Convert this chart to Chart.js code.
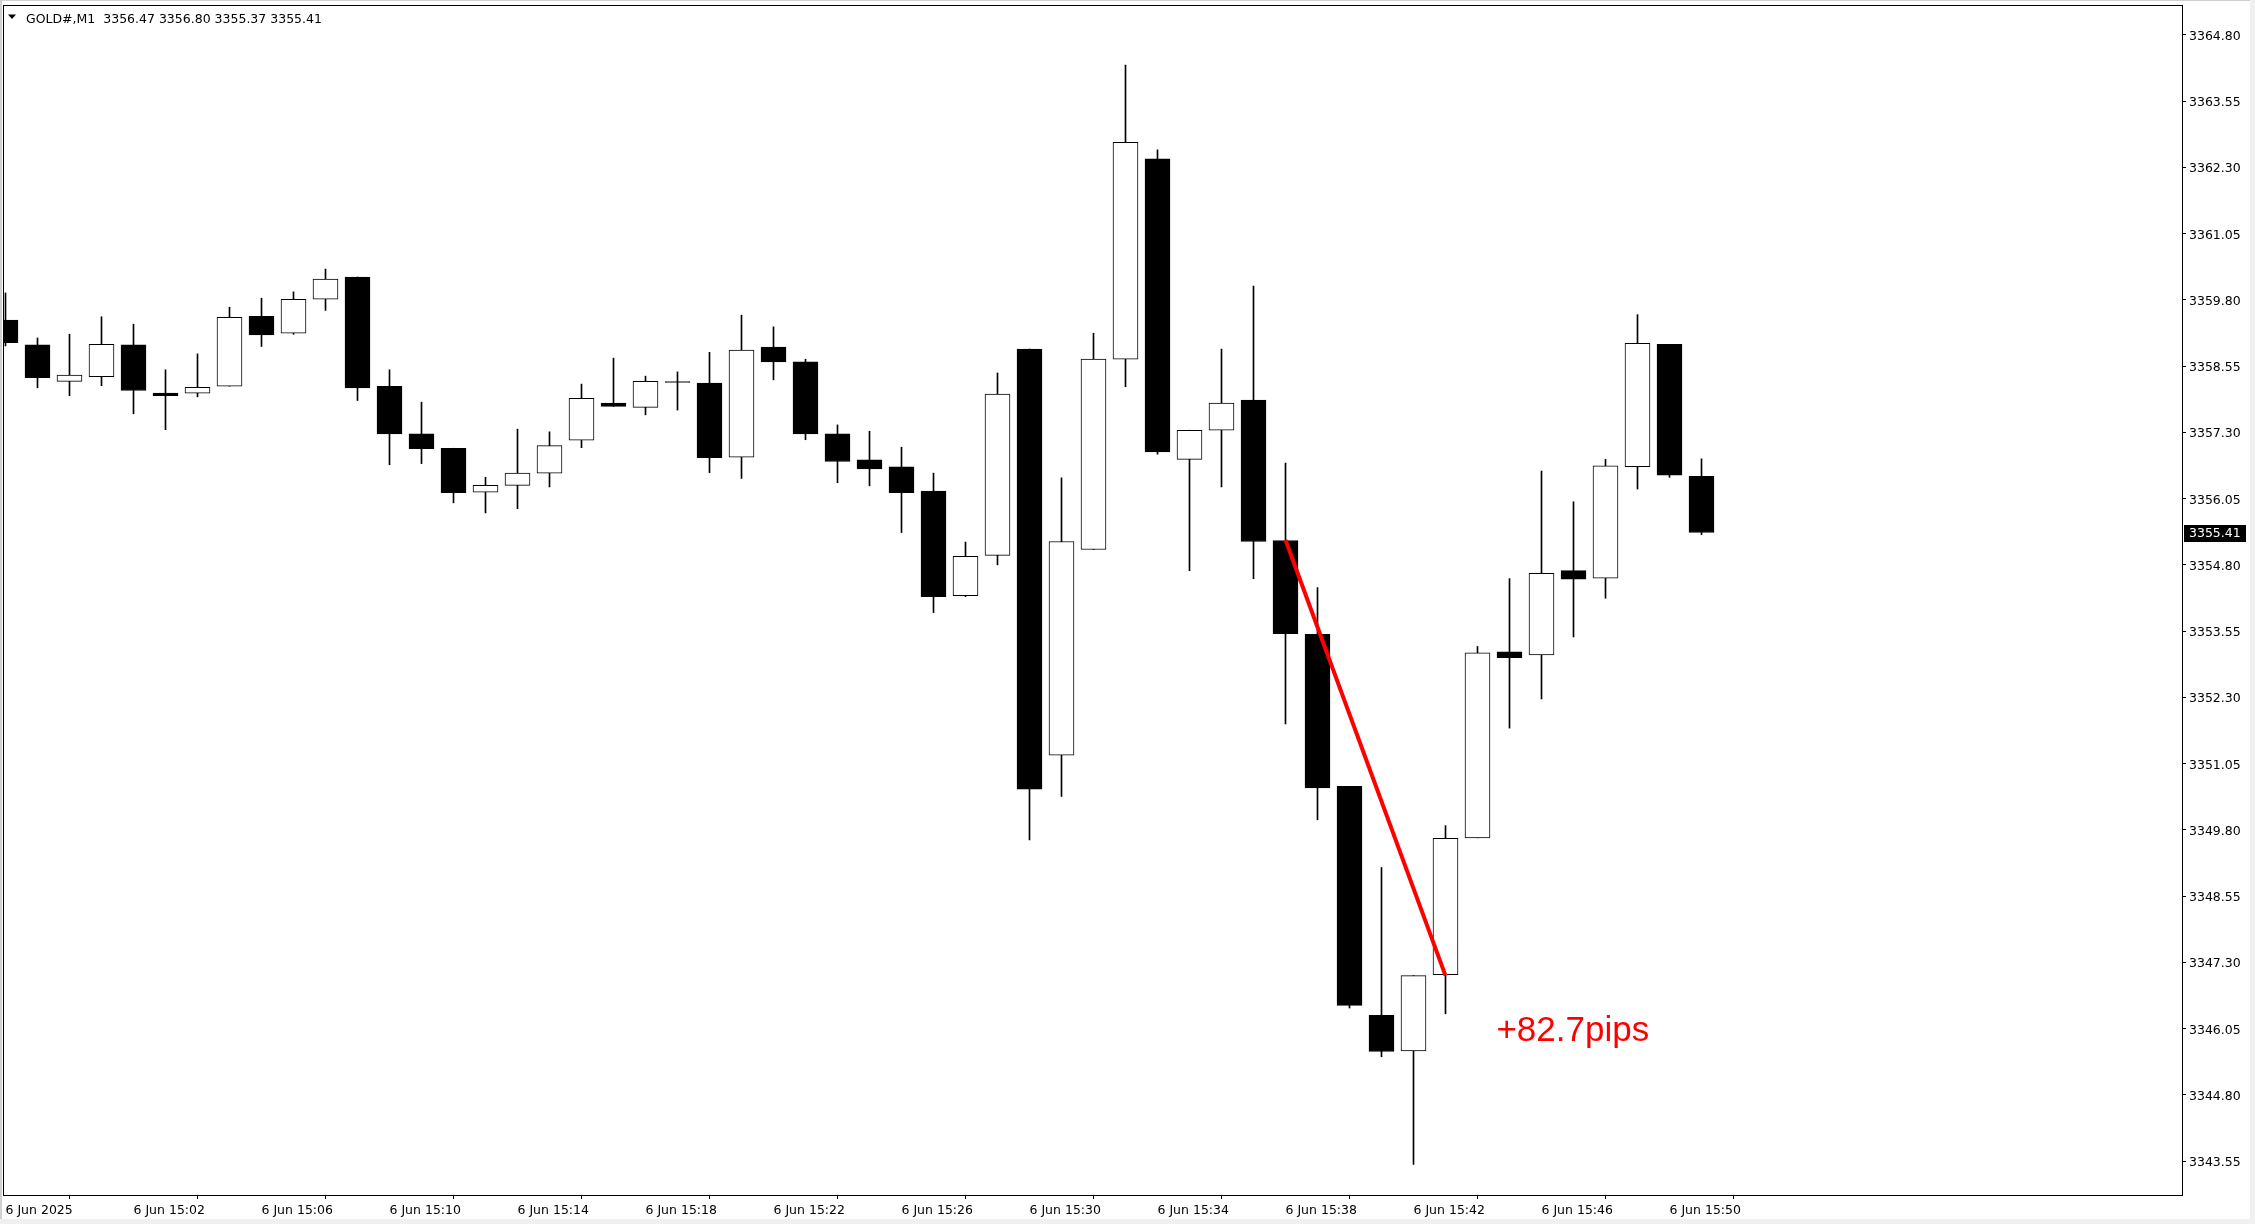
<!DOCTYPE html>
<html>
<head>
<meta charset="utf-8">
<title>GOLD#,M1</title>
<script src="https://cdn.jsdelivr.net/npm/chart.js"></script>
<style>
	html, body { margin: 0; padding: 0; background: #f0f0f0; overflow: hidden; }
	#wrap { position: absolute; left: 0; top: 0; width: 2250px; height: 1219px; background: #fff; }
	canvas { display: block; }
</style>
</head>
<body>
<div id="wrap"><canvas id="chart" width="2250" height="1219"></canvas></div>
<script>
// one-minute bars from 6 Jun 14:58 to 15:51
const opens = [
	3359.42, 3358.95, 3358.26, 3358.35, 3358.95, 3358.04, 3358.04, 3358.17, 3359.49, 3359.17,
	3359.81, 3360.23, 3358.17, 3357.27, 3357.00, 3356.17, 3356.30, 3356.53, 3357.15, 3357.85,
	3357.77, 3358.245, 3358.23, 3356.83, 3358.91, 3358.63, 3357.27, 3356.78, 3356.65, 3356.19,
	3354.22, 3354.98, 3358.87, 3351.21, 3355.09, 3358.68, 3362.46, 3356.79, 3357.34, 3357.91,
	3355.26, 3353.49, 3350.62, 3346.30, 3345.63, 3347.07, 3349.65, 3353.16, 3353.10, 3354.69,
	3354.55, 3356.65, 3358.96, 3356.47,
]
const highs = [
	3359.93, 3359.08, 3359.15, 3359.48, 3359.34, 3358.48, 3358.78, 3359.66, 3359.83, 3359.95,
	3360.38, 3360.23, 3358.48, 3357.87, 3357.00, 3356.45, 3357.36, 3357.31, 3358.21, 3358.70,
	3358.36, 3358.44, 3358.81, 3359.51, 3359.29, 3358.68, 3357.44, 3357.32, 3357.02, 3356.53,
	3355.23, 3358.42, 3358.87, 3356.44, 3359.17, 3364.23, 3362.63, 3357.34, 3358.87, 3360.06,
	3356.72, 3354.37, 3350.62, 3349.09, 3347.05, 3349.88, 3353.26, 3354.54, 3356.57, 3355.99,
	3356.79, 3359.52, 3358.96, 3356.80,
]
const lows = [
	3358.93, 3358.14, 3357.99, 3358.18, 3357.65, 3357.35, 3357.97, 3358.17, 3358.92, 3359.15,
	3359.60, 3357.90, 3356.69, 3356.71, 3355.97, 3355.78, 3355.86, 3356.27, 3357.01, 3357.79,
	3357.63, 3357.72, 3356.54, 3356.43, 3358.29, 3357.16, 3356.35, 3356.29, 3355.41, 3353.90,
	3354.20, 3354.80, 3349.61, 3350.43, 3355.09, 3358.16, 3356.89, 3354.69, 3356.27, 3354.54,
	3351.80, 3349.99, 3346.44, 3345.52, 3343.49, 3346.33, 3349.65, 3351.72, 3352.27, 3353.44,
	3354.17, 3356.23, 3356.45, 3355.37,
]
const closes = [
	3358.99, 3358.33, 3358.38, 3358.96, 3358.09, 3357.99, 3358.15, 3359.47, 3359.14, 3359.81,
	3360.19, 3358.14, 3357.27, 3356.99, 3356.16, 3356.30, 3356.53, 3357.05, 3357.94, 3357.79,
	3358.26, 3358.24, 3356.82, 3358.85, 3358.63, 3357.27, 3356.75, 3356.61, 3356.16, 3354.20,
	3354.96, 3358.02, 3350.57, 3355.24, 3358.68, 3362.77, 3356.93, 3357.34, 3357.85, 3355.24,
	3353.50, 3350.59, 3346.49, 3345.62, 3347.05, 3349.64, 3353.14, 3353.05, 3354.64, 3354.53,
	3356.67, 3358.98, 3356.49, 3355.41,
]

// axis ticks
const xTickIdx = [0, 4, 8, 12, 16, 20, 24, 28, 32, 36, 40, 44, 48, 52]
const xTickLabels = [
	'6 Jun 2025', '6 Jun 15:02', '6 Jun 15:06', '6 Jun 15:10', '6 Jun 15:14',
	'6 Jun 15:18', '6 Jun 15:22', '6 Jun 15:26', '6 Jun 15:30', '6 Jun 15:34',
	'6 Jun 15:38', '6 Jun 15:42', '6 Jun 15:46', '6 Jun 15:50',
]
const yTicks = [
	3343.55, 3344.80, 3346.05, 3347.30, 3348.55, 3349.80, 3351.05, 3352.30, 3353.55,
	3354.80, 3356.05, 3357.30, 3358.55, 3359.80, 3361.05, 3362.30, 3363.55, 3364.80,
]

// trend line drawn on the chart and its label
const trendX = [40, 45]
const trendY = [3355.27, 3347.05]
const pipsLabel = '+82.7pips'
const pipsAt = { x: 46.59, y: 3345.81 }

const symbol = 'GOLD#,M1'
const axisFont = { family: 'DejaVu Sans', size: 12.5 }

const idx = opens.map((v, i) => i)
const last = opens.length - 1

const wicks = idx.map(i => ({ x: i, y: [lows[i], highs[i]] }))
const bodies = idx.map(i => ({ x: i, y: [opens[i], closes[i]] }))
const bodyColors = idx.map(i => (closes[i] > opens[i] ? '#ffffff' : '#000000'))
const trend = trendX.map((x, i) => ({ x: x, y: trendY[i] }))

//window edge
const backdrop = {
	id: 'backdrop',
	beforeDraw: chart => {
		const { ctx, width, height } = chart
		ctx.save()
		ctx.fillStyle = '#fff'
		ctx.fillRect(0, 0, width, height)
		ctx.fillStyle = '#d0d0d0'
		ctx.fillRect(0, 0, 2, height)
		ctx.fillRect(0, 0, width, 1)
		ctx.restore()
	},
}

//frame, header, price tag and pips text
const overlay = {
	id: 'overlay',
	afterDatasetsDraw: chart => {
		const { ctx, chartArea: a, scales } = chart
		ctx.save()

		ctx.strokeStyle = '#000'
		ctx.lineWidth = 1
		ctx.strokeRect(a.left - 0.5, a.top - 0.5, a.right - a.left + 1, a.bottom - a.top + 1)

		//header with the last bar values
		ctx.fillStyle = '#000'
		ctx.beginPath()
		ctx.moveTo(8, 14.5)
		ctx.lineTo(16, 14.5)
		ctx.lineTo(12, 19)
		ctx.closePath()
		ctx.fill()

		const ohlc = [opens[last], highs[last], lows[last], closes[last]].map(v => v.toFixed(2))
		ctx.font = `${axisFont.size}px "${axisFont.family}"`
		ctx.textBaseline = 'alphabetic'
		ctx.textAlign = 'left'
		ctx.fillText(`${symbol}  ${ohlc.join(' ')}`, 26, 22.5)

		//current price tag on the right axis
		const py = scales.y.getPixelForValue(closes[last])
		ctx.fillStyle = '#000'
		ctx.fillRect(a.right + 2, Math.round(py) - 8, 62, 17)
		ctx.fillStyle = '#fff'
		ctx.textBaseline = 'middle'
		ctx.fillText(closes[last].toFixed(2), a.right + 7, py + 1)

		//pips label
		ctx.fillStyle = '#ff0000'
		ctx.font = '35px "Liberation Sans", Arial, sans-serif'
		ctx.textBaseline = 'alphabetic'
		ctx.fillText(pipsLabel, scales.x.getPixelForValue(pipsAt.x), scales.y.getPixelForValue(pipsAt.y))

		ctx.restore()
	},
}

const ctx = document.querySelector('#chart').getContext('2d')

new Chart(ctx, {
	type: 'bar',
	data: {
		datasets: [
			{
				type: 'line',
				data: trend,
				borderColor: '#ff0000',
				borderWidth: 4,
				pointRadius: 0,
				order: 0,
			},
			{
				data: bodies,
				backgroundColor: bodyColors,
				borderColor: '#000000',
				borderWidth: 1,
				borderSkipped: false,
				grouped: false,
				categoryPercentage: 1,
				barPercentage: 1,
				maxBarThickness: 25,
				minBarLength: 1,
				order: 1,
			},
			{
				data: wicks,
				backgroundColor: '#000000',
				borderWidth: 0,
				grouped: false,
				categoryPercentage: 1,
				barPercentage: 1,
				maxBarThickness: 1,
				order: 2,
			},
		],
	},
	options: {
		responsive: false,
		animation: false,
		events: [],
		layout: { padding: { left: 4, top: 6, right: 0, bottom: 0 } },
		plugins: {
			legend: { display: false },
			tooltip: { enabled: false },
		},
		scales: {
			x: {
				type: 'linear',
				min: -0.046875,
				max: 68.015625,
				offset: false,
				border: { display: false },
				grid: { drawOnChartArea: false, drawTicks: true, tickLength: 4, color: '#000' },
				ticks: {
					autoSkip: false,
					maxRotation: 0,
					minRotation: 0,
					align: 'start',
					padding: 4,
					color: '#000',
					font: axisFont,
					callback: (v, i) => xTickLabels[i],
				},
				afterBuildTicks: scale => {
					scale.ticks = xTickIdx.map(v => ({ value: v }))
				},
				afterFit: scale => {
					scale.height = 24
				},
			},
			y: {
				type: 'linear',
				position: 'right',
				min: 3342.912,
				max: 3365.343,
				border: { display: false },
				grid: { drawOnChartArea: false, drawTicks: true, tickLength: 4, color: '#000' },
				ticks: {
					//'start' keeps the axis from padding the chart top, the offset re-centres the labels
					align: 'start',
					labelOffset: -4.5,
					padding: 3,
					color: '#000',
					font: axisFont,
					callback: v => v.toFixed(2),
				},
				afterBuildTicks: scale => {
					scale.ticks = yTicks.map(v => ({ value: v }))
				},
				afterFit: scale => {
					scale.width = 68
				},
			},
		},
	},
	plugins: [backdrop, overlay],
})
</script>
</body>
</html>
